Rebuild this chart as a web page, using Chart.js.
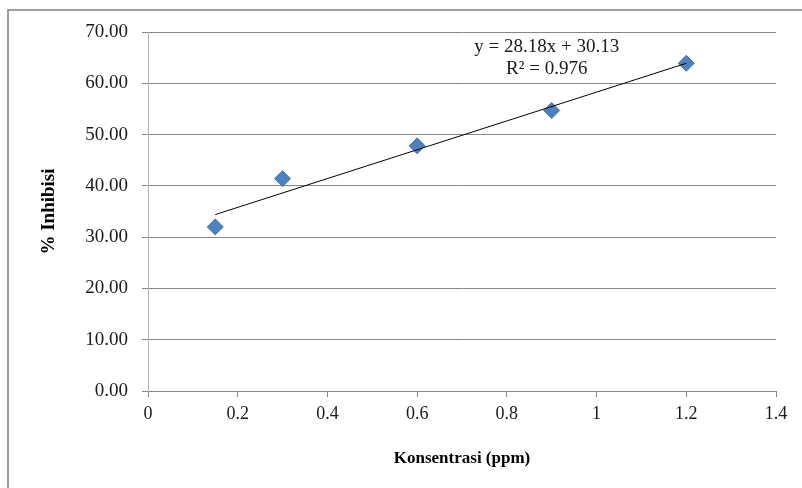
<!DOCTYPE html>
<html>
<head>
<meta charset="utf-8">
<script src="https://cdn.jsdelivr.net/npm/chart.js@4"></script>
<style>
  body { margin: 0; background: #fff; }
  #grafik { display: block; }
</style>
</head>
<body>
<canvas id="grafik" width="802" height="488"></canvas>
<script>
// data
const konsentrasi = [0.15, 0.3, 0.6, 0.9, 1.2];
const inhibisi = [32.0, 41.4, 47.8, 54.7, 63.9];
const trendX = [0.15, 1.2];
const trendY = [34.4, 63.9];
const persamaan = ["y = 28.18x + 30.13", "R\u00b2 = 0.976"];

const serif = "'Liberation Serif', 'Times New Roman', serif";

const bingkai = {
  id: "bingkai",
  beforeDraw(chart) {
    const c = chart.ctx;
    c.save();
    c.fillStyle = "#fff";
    c.fillRect(0, 0, chart.width, chart.height);
    c.strokeStyle = "#7f7f7f";
    c.lineWidth = 1.5;
    c.strokeRect(8, 10, chart.width + 20, chart.height + 20);
    c.restore();
  },
  afterDatasetsDraw(chart) {
    const c = chart.ctx;
    const sx = chart.scales.x, sy = chart.scales.y;
    c.save();
    c.fillStyle = "#1a1a1a";
    c.font = "19px " + serif;
    c.textAlign = "center";
    c.textBaseline = "middle";
    c.fillText(persamaan[0], sx.getPixelForValue(0.889), sy.getPixelForValue(67.0));
    c.fillText(persamaan[1], sx.getPixelForValue(0.889), sy.getPixelForValue(62.8));
    c.restore();
  }
};

const crt = new Chart(document.getElementById("grafik"), {
  type: "scatter",
  data: {
    datasets: [
      {
        type: "line",
        data: trendX.map((x, i) => ({ x: x, y: trendY[i] })),
        borderColor: "#000",
        borderWidth: 1,
        pointRadius: 0,
        fill: false,
        order: 0,
      },
      {
        data: konsentrasi.map((x, i) => ({ x: x, y: inhibisi[i] })),
        pointStyle: "rectRot",
        pointRadius: 8,
        pointHoverRadius: 8,
        backgroundColor: "#4f81bd",
        borderColor: "#4575b0",
        borderWidth: 1,
        order: 1,
      },
    ],
  },
  options: {
    responsive: false,
    animation: false,
    layout: { padding: { left: 34, top: 32, right: 26, bottom: 15 } },
    scales: {
      x: {
        type: "linear",
        min: 0,
        max: 1.4,
        afterFit: (s) => { s.height = 82; },
        ticks: {
          stepSize: 0.2,
          padding: 6,
          color: "#1a1a1a",
          font: { family: serif, size: 18 },
          callback: (v) => String(Math.round(v * 10) / 10),
        },
        grid: { drawOnChartArea: false, tickLength: 6, color: "#868686" },
        border: { color: "#868686" },
        title: {
          display: true,
          text: "Konsentrasi (ppm)",
          color: "#000",
          font: { family: serif, size: 17, weight: "bold" },
        },
      },
      y: {
        min: 0,
        max: 70,
        afterFit: (s) => { s.width = 114; },
        ticks: {
          stepSize: 10,
          padding: 14,
          color: "#1a1a1a",
          font: { family: serif, size: 19 },
          callback: (v) => v.toFixed(2),
        },
        grid: { color: "#868686", tickLength: 6 },
        border: { color: "#b4b4b4" },
        title: {
          display: true,
          text: "% Inhibisi",
          color: "#000",
          font: { family: serif, size: 19, weight: "bold" },
        },
      },
    },
    plugins: {
      legend: { display: false },
      tooltip: { enabled: false },
    },
  },
  plugins: [bingkai],
});
</script>
</body>
</html>
